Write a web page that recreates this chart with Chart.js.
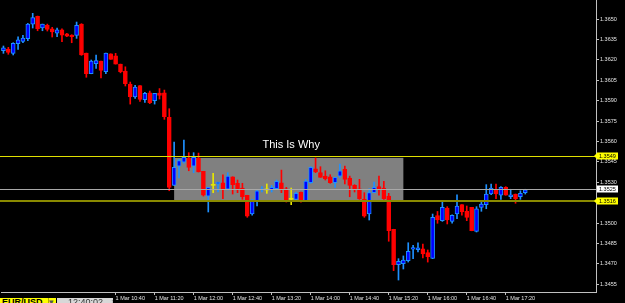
<!DOCTYPE html>
<html><head><meta charset="utf-8">
<script src="https://cdn.jsdelivr.net/npm/chart.js@4/dist/chart.umd.min.js"></script>
<style>
html,body{margin:0;padding:0;background:#000;overflow:hidden;}
#wrap{position:relative;width:625px;height:303px;background:#000;}
canvas{display:block;}
.tab{position:absolute;top:298px;height:5px;overflow:hidden;font-family:"Liberation Sans",Arial,sans-serif;font-size:9px;line-height:9px;white-space:nowrap;}
</style></head><body>
<div id="wrap"><canvas id="c" width="625" height="303"></canvas>
<div class="tab" style="left:0;width:46px;background:#ffff00;color:#000;font-weight:bold;padding-left:2px;border-right:1px solid #b0b000;">EUR/USD</div>
<div class="tab" style="left:49px;width:7px;background:#ffff00;color:#555;">&#9662;</div>
<div class="tab" style="left:57px;width:56px;background:#d8d8d8;color:#333;padding-left:0;"><span style="margin-left:11px">12:40:02</span><span style="margin-left:8px;color:#888">&#215;</span></div>
</div>
<script>
// ---- data (EUR/USD, M5 candles, 1 Mar) ----
const times = ['08:45','08:50','08:55','09:00','09:05','09:10','09:15','09:20','09:25','09:30','09:35','09:40','09:45','09:50','09:55',
'10:00','10:05','10:10','10:15','10:20','10:25','10:30','10:35','10:40','10:45','10:50','10:55','11:00','11:05','11:10','11:15','11:20','11:25','11:30','11:35',
'11:40','11:45','11:50','11:55','12:00','12:05','12:10','12:15','12:20','12:25','12:30','12:35','12:40','12:45','12:50','12:55','13:00','13:05','13:10','13:15',
'13:20','13:25','13:30','13:35','13:40','13:45','13:50','13:55','14:00','14:05','14:10','14:15','14:20','14:25','14:30','14:35','14:40','14:45','14:50','14:55',
'15:00','15:05','15:10','15:15','15:20','15:25','15:30','15:35','15:40','15:45','15:50','15:55','16:00','16:05','16:10','16:15','16:20','16:25','16:30','16:35',
'16:40','16:45','16:50','16:55','17:00','17:05','17:10','17:15','17:20','17:25','17:30','17:35','17:40'];

const open = [1.36267,1.36280,1.36248,1.36319,1.36336,1.36355,1.36463,1.36520,1.36434,1.36454,1.36429,1.36397,1.36421,1.36392,1.36382,
1.36380,1.36463,1.36250,1.36098,1.36172,1.36191,1.36113,1.36245,1.36230,1.36169,1.36118,1.36022,1.35928,1.36011,1.35908,1.35958,1.35900,1.35956,1.35958,1.35778,
1.35278,1.35418,1.35449,1.35476,1.35418,1.35479,1.35381,1.35199,1.35278,1.35288,1.35297,1.35249,1.35341,1.35293,1.35258,1.35205,1.35067,1.35165,1.35244,1.35244,
1.35244,1.35253,1.35297,1.35253,1.35175,1.35175,1.35229,1.35165,1.35297,1.35400,1.35371,1.35346,1.35341,1.35297,1.35346,1.35396,1.35332,1.35278,1.35253,1.35175,
1.35067,1.35224,1.35268,1.35258,1.35199,1.34955,1.34695,1.34703,1.34724,1.34808,1.34805,1.34812,1.34783,1.34740,1.35056,1.35018,1.35111,1.35013,1.35067,1.35136,
1.35087,1.35116,1.34940,1.35116,1.35136,1.35214,1.35249,1.35205,1.35263,1.35194,1.35214,1.35194,1.35224];
const high = [1.36302,1.36292,1.36326,1.36370,1.36380,1.36468,1.36542,1.36522,1.36463,1.36463,1.36439,1.36434,1.36429,1.36395,1.36385,
1.36478,1.36466,1.36250,1.36199,1.36236,1.36191,1.36250,1.36245,1.36248,1.36169,1.36149,1.36037,1.36013,1.36011,1.35961,1.35971,1.35954,1.35989,1.35978,1.35841,
1.35596,1.35469,1.35611,1.35518,1.35518,1.35515,1.35381,1.35263,1.35366,1.35302,1.35356,1.35371,1.35341,1.35317,1.35293,1.35205,1.35175,1.35244,1.35268,1.35288,
1.35278,1.35317,1.35390,1.35263,1.35258,1.35229,1.35229,1.35322,1.35415,1.35479,1.35415,1.35385,1.35356,1.35337,1.35435,1.35420,1.35346,1.35283,1.35322,1.35224,
1.35253,1.35302,1.35346,1.35307,1.35219,1.34955,1.34739,1.34759,1.34856,1.34837,1.34856,1.34847,1.34803,1.35067,1.35086,1.35155,1.35121,1.35062,1.35209,1.35136,
1.35126,1.35116,1.35121,1.35155,1.35283,1.35288,1.35288,1.35268,1.35268,1.35249,1.35214,1.35238,1.35249];
const low = [1.36248,1.36241,1.36236,1.36277,1.36326,1.36341,1.36434,1.36414,1.36414,1.36412,1.36368,1.36370,1.36333,1.36370,1.36326,
1.36358,1.36233,1.36072,1.36098,1.36138,1.36067,1.36098,1.36204,1.36169,1.36105,1.36008,1.35875,1.35917,1.35895,1.35888,1.35878,1.35875,1.35912,1.35763,1.35238,
1.35278,1.35332,1.35440,1.35385,1.35371,1.35376,1.35199,1.35082,1.35224,1.35229,1.35180,1.35244,1.35214,1.35224,1.35175,1.35043,1.35058,1.35126,1.35229,1.35219,
1.35229,1.35249,1.35224,1.35155,1.35136,1.35165,1.35155,1.35160,1.35293,1.35371,1.35337,1.35317,1.35293,1.35263,1.35337,1.35288,1.35194,1.35229,1.35175,1.35043,
1.35023,1.35224,1.35205,1.35175,1.34867,1.34651,1.34582,1.34663,1.34714,1.34739,1.34788,1.34744,1.34714,1.34739,1.34999,1.35013,1.34994,1.34999,1.35033,1.35058,
1.35018,1.34944,1.34935,1.35087,1.35106,1.35209,1.35180,1.35175,1.35205,1.35180,1.35146,1.35175,1.35214];
const close = [1.36289,1.36255,1.36321,1.36348,1.36360,1.36463,1.36510,1.36429,1.36463,1.36424,1.36405,1.36421,1.36382,1.36375,1.36370,
1.36454,1.36236,1.36098,1.36191,1.36194,1.36123,1.36250,1.36204,1.36169,1.36113,1.36026,1.35929,1.36000,1.35909,1.35954,1.35885,1.35954,1.35938,1.35782,1.35263,
1.35410,1.35459,1.35484,1.35409,1.35484,1.35376,1.35205,1.35263,1.35278,1.35302,1.35253,1.35346,1.35282,1.35244,1.35194,1.35052,1.35170,1.35238,1.35253,1.35244,
1.35263,1.35307,1.35244,1.35160,1.35175,1.35219,1.35160,1.35310,1.35410,1.35376,1.35337,1.35327,1.35297,1.35337,1.35385,1.35322,1.35278,1.35253,1.35180,1.35052,
1.35224,1.35263,1.35244,1.35180,1.34944,1.34695,1.34720,1.34729,1.34793,1.34821,1.34819,1.34773,1.34753,1.35043,1.35023,1.35116,1.35023,1.35058,1.35126,1.35082,
1.35043,1.34944,1.35106,1.35141,1.35214,1.35258,1.35214,1.35263,1.35205,1.35209,1.35180,1.35219,1.35244];

const tickTimes = ['10:40','11:20','12:00','12:40','13:20','14:00','14:40','15:20','16:00','16:40','17:20'];
const priceTicks = [1.3455,1.3470,1.3485,1.3500,1.3515,1.3530,1.3545,1.3560,1.3575,1.3590,1.3605,1.3620,1.3635,1.3650,1.3665];
const levelPrices = [1.3549, 1.3525, 1.3516];
const levelLabels = ['1.3549', '1.3525', '1.3516'];
const zoneTimes = ['11:40', '15:35'];
const zonePrices = [1.3548, 1.3517];
const noteText = 'This Is Why';
const noteTime = '13:40';
const notePrice = 1.3555;
const priceMin = 1.34494, priceMax = 1.36640;

// ---- layout / style ----
const EMPTY_SLOTS = 14;
const cats = times.concat(new Array(EMPTY_SLOTS).fill(''));
const dir = i => close[i] > open[i] ? 1 : (close[i] < open[i] ? -1 : 0);
const BULL_FILL = '#0000ff', BULL_LINE = '#1e90ff', BEAR = '#ff0000', DOJI = '#e6e600';
const fillCol = ctx => { const d = dir(ctx.dataIndex); return d > 0 ? BULL_FILL : d < 0 ? BEAR : DOJI; };
const lineCol = ctx => { const d = dir(ctx.dataIndex); return d > 0 ? BULL_LINE : d < 0 ? BEAR : DOJI; };
const FONT = '"Liberation Sans", Arial, sans-serif';
const AXIS = '#c0c0c0', TXT = '#e4e4e4';

const overlay = {
  id: 'overlay',
  beforeDraw(chart) {
    const c = chart.ctx; c.save(); c.fillStyle = '#000'; c.fillRect(0, 0, chart.width, chart.height); c.restore();
  },
  beforeDatasetsDraw(chart) {
    const c = chart.ctx, x = chart.scales.x, y = chart.scales.y;
    const x1 = x.getPixelForValue(times.indexOf(zoneTimes[0]));
    const x2 = x.getPixelForValue(times.indexOf(zoneTimes[1]));
    const y1 = y.getPixelForValue(zonePrices[0]);
    const y2 = y.getPixelForValue(zonePrices[1]);
    c.save(); c.fillStyle = '#808080'; c.fillRect(x1, y1, x2 - x1, y2 - y1); c.restore();
  },
  afterDatasetsDraw(chart) {
    const c = chart.ctx, x = chart.scales.x, y = chart.scales.y, a = chart.chartArea;
    const styles = [['#e0e000', 1], ['#a8a8a8', 1], ['#8a8a00', 2]];
    c.save();
    levelPrices.forEach((p, i) => {
      const py = y.getPixelForValue(p);
      c.strokeStyle = styles[i][0]; c.lineWidth = styles[i][1];
      const yy = styles[i][1] === 1 ? Math.round(py) + 0.5 : Math.round(py);
      c.beginPath(); c.moveTo(0, yy); c.lineTo(a.right, yy); c.stroke();
    });
    c.fillStyle = '#ffffff'; c.font = '11px ' + FONT; c.textAlign = 'center'; c.textBaseline = 'alphabetic';
    c.fillText(noteText, x.getPixelForValue(times.indexOf(noteTime)), y.getPixelForValue(notePrice));
    c.restore();
  },
  afterDraw(chart) {
    const c = chart.ctx, y = chart.scales.y, a = chart.chartArea;
    c.save();
    // price ticks that sit just above the visible range are still partly shown by the terminal
    c.fillStyle = TXT; c.font = '5.5px ' + FONT; c.textAlign = 'left'; c.textBaseline = 'middle';
    priceTicks.filter(v => v > priceMax).forEach(v => c.fillText(v.toFixed(4), a.right + 4, y.getPixelForValue(v)));
    const bg = ['#ffff00', '#ffffff', '#ffff00'];
    levelPrices.forEach((p, i) => {
      const py = Math.round(y.getPixelForValue(p));
      c.fillStyle = bg[i];
      c.fillRect(a.right + 1, py - 3.5, 21, 7);
      if (i !== 1) {
        c.beginPath(); c.moveTo(a.right + 1, py - 3); c.lineTo(a.right - 2, py); c.lineTo(a.right + 1, py + 3); c.closePath(); c.fill();
      }
      c.fillStyle = '#000'; c.font = '5.5px ' + FONT; c.textAlign = 'left'; c.textBaseline = 'middle';
      c.fillText(levelLabels[i], a.right + 3, py + 0.5);
    });
    c.restore();
  }
};

new Chart(document.getElementById('c'), {
  type: 'bar',
  data: {
    labels: cats,
    datasets: [
      {
        label: 'wick', order: 2, grouped: false,
        data: times.map((t, i) => [low[i], high[i]]),
        backgroundColor: lineCol, borderWidth: 0, barThickness: 1, minBarLength: 1
      },
      {
        label: 'body', order: 1, grouped: false,
        data: times.map((t, i) => [open[i], close[i]]),
        backgroundColor: fillCol, borderColor: lineCol,
        borderWidth: ctx => dir(ctx.dataIndex) === 0 ? 0 : 1,
        borderSkipped: false, barThickness: 4, minBarLength: 1
      }
    ]
  },
  options: {
    responsive: false, animation: false, devicePixelRatio: 1,
    layout: { padding: { left: 1, right: 0, top: 0, bottom: 0 }, autoPadding: false },
    plugins: { legend: { display: false }, tooltip: { enabled: false } },
    scales: {
      x: {
        type: 'category', offset: true,
        afterFit: s => { s.height = 11; s.paddingLeft = 0; s.paddingRight = 0; },
        grid: {
          offset: false, drawOnChartArea: false, drawTicks: true, tickLength: 3,
          color: ctx => tickTimes.includes(cats[ctx.index]) ? AXIS : 'rgba(0,0,0,0)'
        },
        border: { display: true, color: AXIS, width: 1 },
        ticks: {
          autoSkip: false, maxRotation: 0, minRotation: 0, align: 'start', padding: 0,
          color: TXT, font: { family: FONT, size: 5.5 },
          callback: (v, i) => tickTimes.includes(cats[i]) ? '1 Mar ' + cats[i] : ''
        }
      },
      y: {
        position: 'right', min: priceMin, max: priceMax,
        afterBuildTicks: s => { s.ticks = priceTicks.filter(v => v <= priceMax).map(v => ({ value: v })); },
        afterFit: s => { s.width = 29; s.paddingTop = 0; s.paddingBottom = 0; },
        grid: { drawOnChartArea: false, drawTicks: true, tickLength: 3, color: AXIS },
        border: { display: true, color: AXIS, width: 1 },
        ticks: {
          autoSkip: false, padding: 1, color: TXT, font: { family: FONT, size: 5.5 },
          callback: v => Number(v).toFixed(4)
        }
      }
    }
  },
  plugins: [overlay]
});
</script>
</body></html>
